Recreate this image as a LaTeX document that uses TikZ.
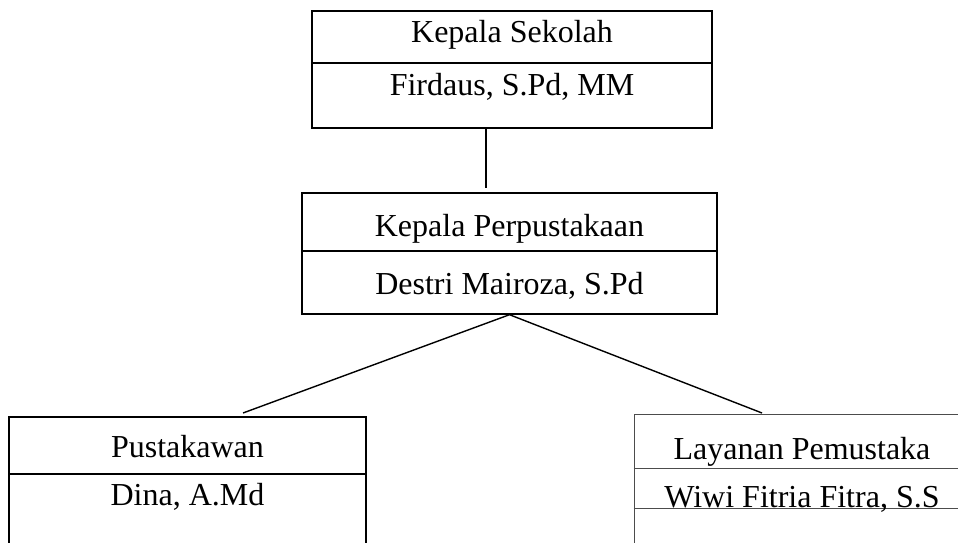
\documentclass[tikz,border=0pt]{standalone}
\usepackage{fontspec}
\setmainfont{Liberation Serif}
\usetikzlibrary{positioning}

\begin{document}
\begin{tikzpicture}[x=1pt,y=-1pt,line width=1.4pt,
  orgbox/.style={draw,rectangle,inner sep=0pt},
  thinbox/.style={draw=black!70,line width=0.8pt,rectangle,inner sep=0pt},
  lbl/.style={anchor=base,inner sep=0pt,font=\fontsize{32}{36}\selectfont}]
\useasboundingbox (0,0) rectangle (958,543);
\clip (0,0) rectangle (958,543);

% boxes
\node[orgbox,minimum width=400pt,minimum height=117pt] (kepsek) at (512,69.5) {};
\node[orgbox,minimum width=415pt,minimum height=121pt] (kaperpus) at (509.5,253.5) {};
\node[orgbox,minimum width=357pt,minimum height=160pt] (pustakawan) at (187.5,497) {};
\node[thinbox,minimum width=346pt,minimum height=160pt] (layanan) at (807,494) {};

% dividers
\draw (kepsek.west |- 0,63) -- (kepsek.east |- 0,63);
\draw (kaperpus.west |- 0,251) -- (kaperpus.east |- 0,251);
\draw (pustakawan.west |- 0,474) -- (pustakawan.east |- 0,474);
\draw[black!70,line width=0.8pt] (layanan.west |- 0,468) -- (layanan.east |- 0,468);
\draw[black!70,line width=0.8pt] (layanan.west |- 0,508) -- (layanan.east |- 0,508);

% texts
\node[lbl] (jab1) at (512,43) {Kepala Sekolah};
\node[lbl] (nama1) at (512,95) {Firdaus, S.Pd, MM};
\node[lbl] (jab2) at (509.5,236) {Kepala Perpustakaan};
\node[lbl] (nama2) at (509.5,294) {Destri Mairoza, S.Pd};
\node[lbl] (jab3) at (187.5,457) {Pustakawan};
\node[lbl] (nama3) at (187.5,505) {Dina, A.Md};
\node[lbl] (jab4) at (802,459) {Layanan Pemustaka};
\node[lbl] (nama4) at (802,507) {Wiwi Fitria Fitra, S.S};

% connectors
\coordinate (c1) at (486,188);
\coordinate (c2) at (243,413);
\coordinate (c3) at (762,413);
\draw (kepsek.south -| c1) -- (c1);
\draw (kaperpus.south) -- (c2);
\draw (kaperpus.south) -- (c3);

\end{tikzpicture}
\end{document}
